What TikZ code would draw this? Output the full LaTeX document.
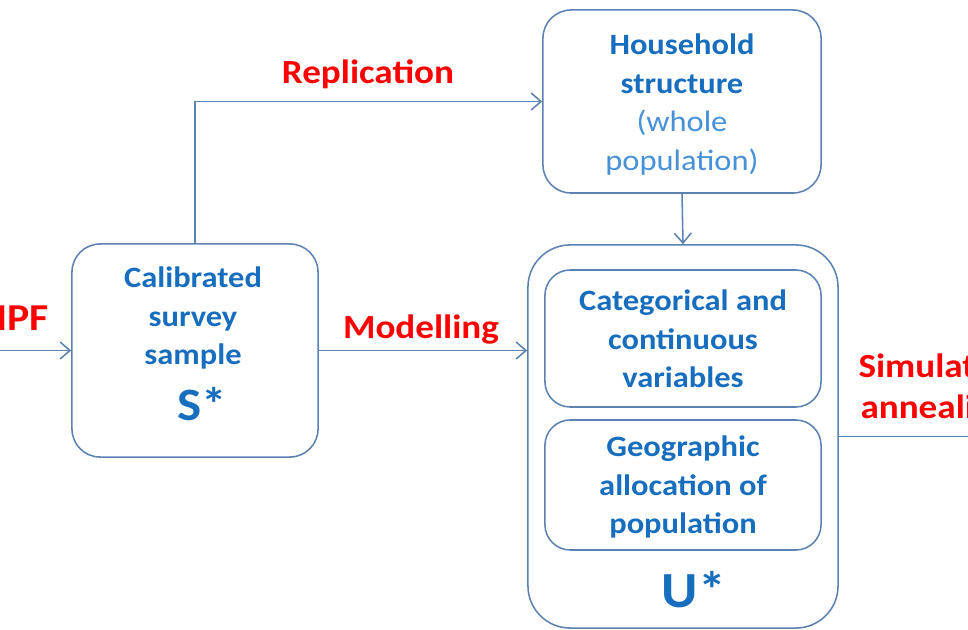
\documentclass[tikz,border=0pt]{standalone}
\usepackage{fontspec}
\setmainfont{Carlito}[FakeStretch=1.1]
\usetikzlibrary{arrows.meta}

\definecolor{boxblue}{RGB}{92,130,178}
\definecolor{txtblue}{RGB}{23,110,190}
\definecolor{lightblue}{RGB}{70,145,215}

\begin{document}
\begin{tikzpicture}[x=0.025cm, y=-0.025cm,
    box/.style={draw=boxblue, line width=1.1pt, fill=white},
    flow/.style={draw=boxblue, line width=1.1pt},
    arr/.style={flow, -{Straight Barb[length=7pt,width=12pt]}},
    body/.style={text=txtblue, align=center, inner sep=0pt, font=\bfseries\fontsize{21}{27.3}\selectfont},
    tag/.style={text=red, align=center, inner sep=0pt, font=\bfseries\fontsize{24}{29}\selectfont}]
  \useasboundingbox (0,0) rectangle (968,630);

  % boxes
  \node[box, rounded corners=20pt, minimum width=6.15cm, minimum height=5.325cm] (sbox) at (195,350.5) {};
  \node[box, rounded corners=20pt, minimum width=6.95cm, minimum height=4.575cm] (hhbox) at (682,101.5) {};
  \node[box, rounded corners=30pt, minimum width=7.75cm, minimum height=9.575cm] (ubox) at (683,436.5) {};
  \node[box, rounded corners=18pt, minimum width=6.9cm, minimum height=3.425cm] (catbox) at (683,338.5) {};
  \node[box, rounded corners=18pt, minimum width=6.9cm, minimum height=3.25cm] (geobox) at (683,485) {};

  % texts
  \node[body] (stxt) at (193,318) {Calibrated\\survey\\sample};
  \node[text=txtblue, inner sep=0pt, font=\bfseries\fontsize{33}{40}\selectfont] (sstar) at (202,404) {S*};
  \node[body, font=\bfseries\fontsize{21}{27.7}\selectfont] (hhtxt) at (682,104.5) {Household\\structure\\\textmd{\textcolor{lightblue}{(whole}}\\\textmd{\textcolor{lightblue}{population)}}};
  \node[body] (cattxt) at (683,339) {Categorical and\\continuous\\variables};
  \node[body] (geotxt) at (683,487) {Geographic\\allocation of\\population};
  \node[text=txtblue, inner sep=0pt, font=\bfseries\fontsize{36}{42}\selectfont] (ustar) at (694,590) {U*};

  \node[tag, anchor=east, font=\bfseries\fontsize{27}{32}\selectfont] (ipf) at (49,318) {IPF};
  \node[tag] (repl) at (368,74) {Replication};
  \node[tag] (model) at (421,330) {Modelling};
  \node[tag] (anneal) at (936,389) {Simulated\\annealing};

  % connectors
  \coordinate (in) at (0,350.5);
  \coordinate (out) at (968,436.5);
  \draw[arr] (in) -- (sbox.west);
  \draw[arr] (sbox.north) |- (hhbox.west);
  \draw[arr] (hhbox.south) -- (ubox.north);
  \draw[arr] (sbox.east) -- (sbox.east -| ubox.west);
  \draw[flow] (ubox.east) -- (out);
\end{tikzpicture}
\end{document}
